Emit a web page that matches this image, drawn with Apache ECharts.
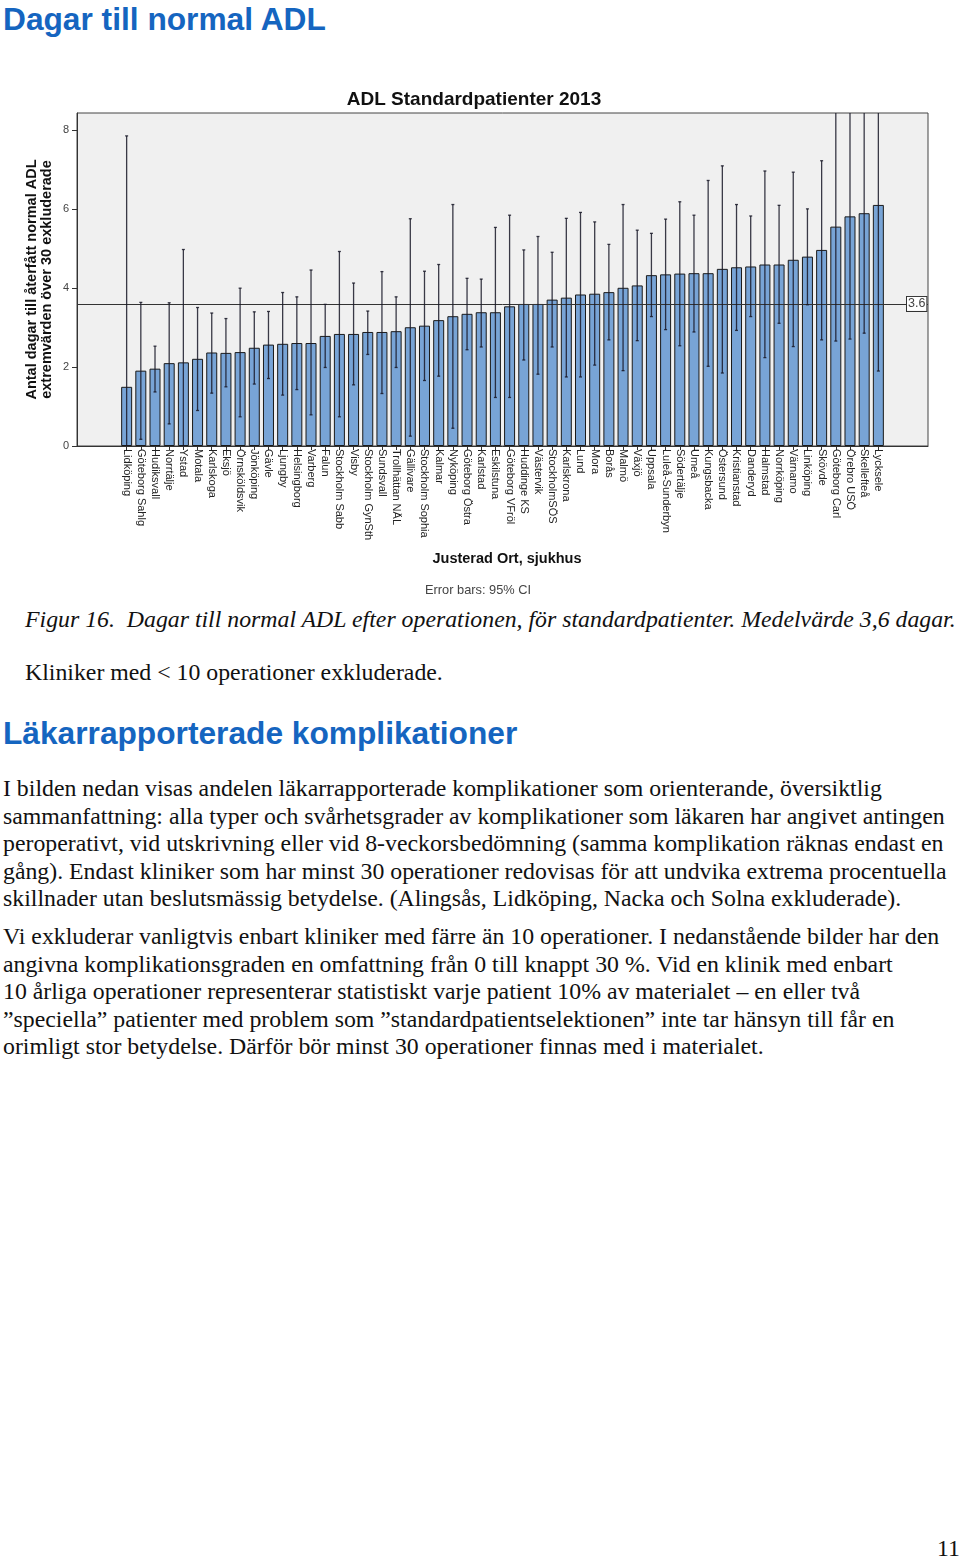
<!DOCTYPE html>
<html>
<head>
<meta charset="utf-8">
<script src="https://cdn.jsdelivr.net/npm/echarts@6/dist/echarts.min.js"></script>
<style>
  html, body { margin:0; padding:0; background:#fff; }
  body { width:960px; height:1559px; position:relative; overflow:hidden; }
  .h { position:absolute; left:3px; font-family:"Liberation Sans", Arial, sans-serif; font-weight:bold; color:#1565c0; font-size:31.7px; line-height:36px; white-space:nowrap; }
  .t { position:absolute; font-family:"Liberation Serif", "Times New Roman", serif; font-size:23.8px; line-height:27px; color:#111; white-space:nowrap; }
  .p { position:absolute; left:3px; font-family:"Liberation Serif", "Times New Roman", serif; font-size:23.8px; line-height:27.5px; color:#111; white-space:nowrap; }
  #chart { position:absolute; left:0; top:60px; width:960px; height:545px; }
</style>
</head>
<body>
<div class="h" style="top:1px;">Dagar till normal ADL</div>
<div id="chart"></div>
<div class="t" style="left:25px; top:606px; font-style:italic;">Figur 16.&nbsp; Dagar till normal ADL efter operationen, för standardpatienter. Medelvärde 3,6 dagar.</div>
<div class="t" style="left:25px; top:659px;">Kliniker med &lt; 10 operationer exkluderade.</div>
<div class="h" style="top:715px;">Läkarrapporterade komplikationer</div>
<div class="p" style="top:775px;">I bilden nedan visas andelen läkarrapporterade komplikationer som orienterande, översiktlig<br>sammanfattning: alla typer och svårhetsgrader av komplikationer som läkaren har angivet antingen<br>peroperativt, vid utskrivning eller vid 8-veckorsbedömning (samma komplikation räknas endast en<br>gång). Endast kliniker som har minst 30 operationer redovisas för att undvika extrema procentuella<br>skillnader utan beslutsmässig betydelse. (Alingsås, Lidköping, Nacka och Solna exkluderade).</div>
<div class="p" style="top:923px;">Vi exkluderar vanligtvis enbart kliniker med färre än 10 operationer. I nedanstående bilder har den<br>angivna komplikationsgraden en omfattning från 0 till knappt 30 %. Vid en klinik med enbart<br>10 årliga operationer representerar statistiskt varje patient 10% av materialet – en eller två<br>”speciella” patienter med problem som ”standardpatientselektionen” inte tar hänsyn till får en<br>orimligt stor betydelse. Därför bör minst 30 operationer finnas med i materialet.</div>
<div class="t" style="left:937px; top:1535px;">11</div>
<script>
const categories = ["Lidköping","Göteborg Sahlg","Hudiksvall","Norrtälje","Ystad","Motala","Karlskoga","Eksjö","Örnsköldsvik","Jönköping","Gävle","Ljungby","Helsingborg","Varberg","Falun","Stockholm Sabb","Visby","Stockholm GynSth","Sundsvall","Trollhättan NÄL","Gällivare","Stockholm Sophia","Kalmar","Nyköping","Göteborg Östra","Karlstad","Eskilstuna","Göteborg VFröl","Huddinge KS","Västervik","StockholmSÖS","Karlskrona","Lund","Mora","Borås","Malmö","Växjö","Uppsala","Luleå-Sunderbyn","Södertälje","Umeå","Kungsbacka","Östersund","Kristianstad","Danderyd","Halmstad","Norrköping","Värnamo","Linköping","Skövde","Göteborg Carl","Örebro USÖ","Skellefteå","Lycksele"];
const meanValues = [1.50,1.91,1.96,2.10,2.12,2.21,2.37,2.36,2.38,2.49,2.57,2.59,2.61,2.61,2.79,2.84,2.84,2.89,2.89,2.91,3.01,3.05,3.19,3.29,3.35,3.39,3.39,3.54,3.60,3.60,3.71,3.76,3.84,3.86,3.90,4.01,4.07,4.33,4.35,4.37,4.38,4.38,4.49,4.53,4.55,4.60,4.60,4.72,4.80,4.97,5.56,5.82,5.90,6.11];
const ciLower = [0.00,0.17,1.37,0.56,0.00,0.90,1.34,1.50,0.74,1.57,1.71,1.29,1.43,0.79,1.99,0.74,1.55,2.32,1.33,1.99,0.25,1.66,1.77,0.45,2.44,2.51,1.23,1.23,2.18,1.82,2.51,1.75,1.75,2.05,2.69,1.91,2.67,3.28,2.95,2.54,2.89,2.02,1.85,2.93,3.28,2.24,3.11,2.52,3.58,2.69,2.66,2.71,2.86,1.90];
const ciUpper = [7.86,3.64,2.53,3.63,4.98,3.51,3.37,3.23,4.00,3.40,3.41,3.89,3.78,4.46,3.59,4.93,4.13,3.42,4.42,3.78,5.76,4.43,4.60,6.12,4.25,4.23,5.54,5.85,4.97,5.31,4.91,5.77,5.92,5.68,5.11,6.12,5.47,5.39,5.75,6.19,5.85,6.73,7.10,6.12,5.83,6.97,6.10,6.94,6.01,7.23,10.0,10.0,10.0,10.0];
const meanLine = 3.6;
const yTicks = [0,2,4,6,8];
const padCount = 3;

const chart = echarts.init(document.getElementById('chart'), null, {renderer:'canvas'});
const pad = Array(padCount).fill('');
const allCats = pad.concat(categories, pad);
const barData = pad.map(()=>null).concat(meanValues, pad.map(()=>null));
const errData = categories.map((c,i)=>[i+padCount, ciLower[i], ciUpper[i]]);

chart.setOption({
  animation:false,
  title:[
    {text:'ADL Standardpatienter 2013', left:469, top:25, textAlign:'center',
     textStyle:{fontFamily:'Liberation Sans', fontSize:19, fontWeight:'bold', color:'#111'}},
    {text:'Justerad Ort, sjukhus', left:502, top:486, textAlign:'center',
     textStyle:{fontFamily:'Liberation Sans', fontSize:14.5, fontWeight:'bold', color:'#111'}},
    {text:'Error bars: 95% CI', left:473, top:519, textAlign:'center',
     textStyle:{fontFamily:'Liberation Sans', fontSize:12.8, fontWeight:'normal', color:'#444'}}
  ],
  grid:{left:77, right:32, top:53, height:333, show:true, backgroundColor:'#f0f0f0', borderColor:'#444', borderWidth:1},
  xAxis:{
    type:'category', data:allCats,
    axisLine:{show:true, lineStyle:{color:'#333'}},
    axisTick:{show:true, alignWithLabel:true, length:4, lineStyle:{color:'#333'},
      interval:(i,v)=>v!==''},
    axisLabel:{interval:0, rotate:-90, fontFamily:'Liberation Sans', fontSize:11, color:'#222', margin:3,
      align:'left', verticalAlign:'middle'}
  },
  yAxis:{
    type:'value', min:0, max:8.44, interval:2,
    name:'Antal dagar till återfått normal ADL\nextremvärden över 30 exkluderade',
    nameLocation:'middle', nameGap:23, nameRotate:90, nameMoveOverlap:false,
    nameTextStyle:{fontFamily:'Liberation Sans', fontSize:14.5, fontWeight:'bold', color:'#111', lineHeight:14.5},
    axisLine:{show:true, lineStyle:{color:'#333'}},
    axisTick:{show:true, length:5, lineStyle:{color:'#333'}},
    splitLine:{show:false},
    axisLabel:{fontFamily:'Liberation Sans', fontSize:11, color:'#444', margin:8, showMaxLabel:false}
  },
  series:[
    {
      type:'bar', data:barData, barWidth:11,
      itemStyle:{color:'#78a4d6', borderColor:'#1a1a1a', borderWidth:1},
      markLine:{
        symbol:'none', silent:true,
        lineStyle:{color:'#333', width:1, type:'solid'},
        label:{show:true, position:'end', distance:-21, formatter:'3.6',
          fontFamily:'Liberation Sans', fontSize:12.5, color:'#444', backgroundColor:'#fff',
          borderColor:'#333', borderWidth:1, padding:[1,1,0,1]},
        data:[{yAxis:meanLine}]
      },
      z:2
    },
    {
      type:'custom', data:errData, clip:true, z:5,
      renderItem:function(params, api){
        const x = api.coord([api.value(0), 0])[0];
        const lo = api.coord([api.value(0), api.value(1)])[1];
        const hi = api.coord([api.value(0), api.value(2)])[1];
        const c = 1.5;
        const st = {stroke:'rgba(25,25,40,0.85)', lineWidth:1.3};
        return {type:'group', children:[
          {type:'line', shape:{x1:x, y1:lo, x2:x, y2:hi}, style:st},
          {type:'line', shape:{x1:x-c, y1:hi, x2:x+c, y2:hi}, style:st},
          {type:'line', shape:{x1:x-c, y1:lo, x2:x+c, y2:lo}, style:st}
        ]};
      }
    }
  ]
});
</script>
</body>
</html>
